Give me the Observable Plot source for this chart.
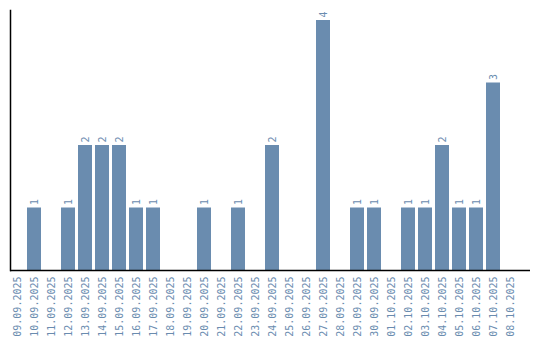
<!DOCTYPE html>
<html>
<head>
<meta charset="utf-8">
<script src="https://cdn.jsdelivr.net/npm/d3@7"></script>
<script src="https://cdn.jsdelivr.net/npm/@observablehq/plot@0.6"></script>
<style>
  body { margin: 0; background: #fff; }
  svg { font-family: "DejaVu Sans Mono", monospace; }
</style>
</head>
<body>
<div id="chart"></div>
<script>
const dates = ["09.09.2025","10.09.2025","11.09.2025","12.09.2025","13.09.2025","14.09.2025","15.09.2025","16.09.2025","17.09.2025","18.09.2025","19.09.2025","20.09.2025","21.09.2025","22.09.2025","23.09.2025","24.09.2025","25.09.2025","26.09.2025","27.09.2025","28.09.2025","29.09.2025","30.09.2025","01.10.2025","02.10.2025","03.10.2025","04.10.2025","05.10.2025","06.10.2025","07.10.2025","08.10.2025"];
const counts = [0,1,0,1,2,2,2,1,1,0,0,1,0,1,0,2,0,0,4,0,1,1,0,1,1,2,1,1,3,0];

const data = dates.map((d, i) => ({date: d, count: counts[i]}));
const nonzero = data.filter(d => d.count > 0);
const color = "#6a8caf";

const chart = Plot.plot({
  width: 540,
  height: 340,
  marginTop: 10,
  marginLeft: 10,
  marginRight: 10,
  marginBottom: 70,
  style: {fontFamily: "DejaVu Sans Mono, monospace", fontSize: "10px", background: "#fff"},
  x: {domain: dates, range: [10, 517], paddingInner: 0.18, paddingOuter: 0, label: null},
  y: {domain: [0, d3.max(counts) * 1.04], axis: null},
  marks: [
    Plot.barY(data, {x: "date", y: "count", fill: color}),
    Plot.text(nonzero, {x: "date", y: "count", text: d => String(d.count), rotate: -90, textAnchor: "start", dy: -3, fill: color, fontSize: 10}),
    Plot.axisX({tickSize: 0, tickRotate: -90, tickPadding: 6, textAnchor: "end", fill: color, fontSize: 10, label: null}),
    Plot.ruleY([0], {stroke: "#000", strokeWidth: 1.5}),
    Plot.frame({anchor: "left", stroke: "#000", strokeWidth: 1.5})
  ]
});
document.getElementById("chart").appendChild(chart);
</script>
</body>
</html>
